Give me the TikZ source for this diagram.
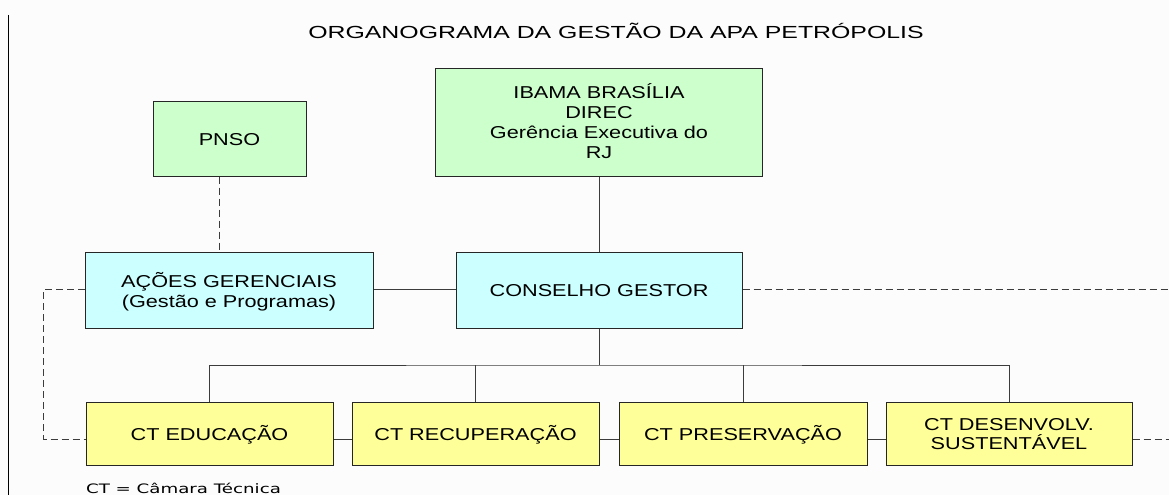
\documentclass[tikz,border=0pt]{standalone}
\usepackage{fontspec}
\setmainfont{Liberation Sans}
\newfontfamily\notefont{DejaVu Sans}
\usepackage{graphicx}
\usepackage{tikz}

\definecolor{boxgreen}{RGB}{204,255,204}
\definecolor{boxcyan}{RGB}{204,255,255}
\definecolor{boxyellow}{RGB}{255,255,153}
\definecolor{pagebg}{RGB}{252,252,252}
\definecolor{edgegray}{RGB}{60,60,60}

\newcommand{\boxtxt}[1]{\raisebox{-2.5pt}[\height][\depth]{\scalebox{1.26}[1]{\begin{tabular}{@{}c@{}}#1\end{tabular}}}}

\tikzstyle{orgbox} = [rectangle, draw=black!85, line width=1pt, inner sep=0pt, font=\fontsize{17.2}{20}\selectfont]
\tikzstyle{link} = [draw=edgegray, line width=1pt]
\tikzstyle{dashlink} = [link, dash pattern=on 7pt off 4pt]

\begin{document}
\begin{tikzpicture}[x=1pt, y=-1pt]
    \fill[pagebg] (0,0) rectangle (1169,495);
    \useasboundingbox (0,0) rectangle (1169,495);
    \draw[black, line width=1pt] (8,15) -- (8,495);

    % Nodes
    \node[font=\fontsize{17.5}{20}\selectfont] (title) at (616,31) {\scalebox{1.42}[1]{ORGANOGRAMA DA GESTÃO DA APA PETRÓPOLIS}};
    \node[orgbox, fill=boxgreen, minimum width=153pt, minimum height=75pt] (pnso) at (229.5,138.5) {\boxtxt{PNSO}};
    \node[orgbox, fill=boxgreen, minimum width=327pt, minimum height=108pt] (ibama) at (599,122) {\boxtxt{IBAMA BRASÍLIA\\DIREC\\Gerência Executiva do\\RJ}};
    \node[orgbox, fill=boxcyan, minimum width=288pt, minimum height=76pt] (acoes) at (229,290) {\boxtxt{AÇÕES GERENCIAIS\\(Gestão e Programas)}};
    \node[orgbox, fill=boxcyan, minimum width=286pt, minimum height=76pt] (conselho) at (599,290) {\boxtxt{CONSELHO GESTOR}};
    \node[orgbox, fill=boxyellow, minimum width=247pt, minimum height=63pt] (educ) at (209.5,433.5) {\boxtxt{CT EDUCAÇÃO}};
    \node[orgbox, fill=boxyellow, minimum width=247pt, minimum height=63pt] (recup) at (475.5,433.5) {\boxtxt{CT RECUPERAÇÃO}};
    \node[orgbox, fill=boxyellow, minimum width=248pt, minimum height=63pt] (preserv) at (743,433.5) {\boxtxt{CT PRESERVAÇÃO}};
    \node[orgbox, fill=boxyellow, minimum width=246pt, minimum height=63pt] (desenv) at (1009,433.5) {\boxtxt{CT DESENVOLV.\\[-2.5pt]SUSTENTÁVEL}};
    \node[font=\notefont\fontsize{13}{15}\selectfont] (note) at (183.5,488) {\scalebox{1.4}[1]{CT = Câmara Técnica}};
    \coordinate (bus) at (599,365);
    \coordinate (endtop) at (1169,289);
    \coordinate (endlow) at (1169,439);

    % Edges
    \draw[dashlink] ([xshift=-10.5pt]pnso.south) -- ([xshift=-10pt]acoes.north);
    \draw[link] (ibama.south) -- (conselho.north);
    \draw[link] ([yshift=1pt]acoes.east) -- ([yshift=1pt]conselho.west);
    \draw[link] (conselho.south) -- (bus);
    \draw[link] (educ.north) |- (bus) -| (desenv.north);
    \draw[link] (recup.north) -- (recup.north |- bus);
    \draw[link] (preserv.north) -- (preserv.north |- bus);
    \foreach \a/\b in {educ/recup, recup/preserv, preserv/desenv}
        \draw[link] ([yshift=-5.5pt]\a.east) -- ([yshift=-5.5pt]\b.west);
    \draw[dashlink] ([yshift=1pt]conselho.east) -- (endtop);
    \draw[dashlink] ([yshift=-5.5pt]desenv.east) -- (endlow);
    \draw[dashlink] ([yshift=1pt]acoes.west) -- ++(-41,0) |- ([yshift=-5.5pt]educ.west);

\end{tikzpicture}
\end{document}
